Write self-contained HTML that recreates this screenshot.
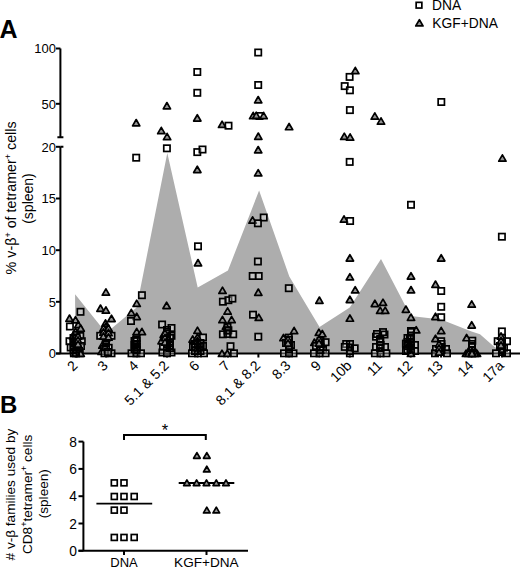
<!DOCTYPE html><html><head><meta charset="utf-8"><style>
html,body{margin:0;padding:0;background:#fff;}
body{width:520px;height:567px;overflow:hidden;}
svg{display:block;font-family:"Liberation Sans", sans-serif;}
</style></head><body>
<svg width="520" height="567" viewBox="0 0 520 567">
<text x="-0.6" y="37.6" font-size="25" font-weight="bold">A</text>
<text x="0" y="413" font-size="24" font-weight="bold">B</text>
<rect x="416.15" y="2.35" width="5.70" height="5.70" fill="#fff" fill-opacity="0.3" stroke="#000" stroke-width="1.7"/>
<text x="432" y="9.6" font-size="13.8">DNA</text>
<path d="M419.40 19.65L423.05 25.95L415.75 25.95Z" fill="#939393" stroke="#000" stroke-width="1.7" stroke-linejoin="round"/>
<text x="432.3" y="28" font-size="13.8">KGF+DNA</text>
<polygon points="75.10,353.50 75.10,294.30 106.15,333.00 136.60,307.50 167.30,153.00 197.70,287.40 227.95,270.50 259.10,190.50 289.30,276.50 319.50,327.00 349.75,307.50 381.00,259.10 410.65,316.00 441.10,319.50 471.55,331.60 480.00,334.30 492.80,345.40 502.00,352.30 502.00,353.50" fill="#adadad"/>
<g stroke="#000" stroke-width="2" fill="none">
<path d="M60.4 48.5V137.2M60.4 146.8V353.5"/>
<path d="M57.4 137.2H63.4M60.4 146.8H63.4"/>
<path d="M56 48.5H60.4"/>
<path d="M56 103.8H60.4"/>
<path d="M56 146.8H60.4"/>
<path d="M56 198.5H60.4"/>
<path d="M56 250.2H60.4"/>
<path d="M56 301.8H60.4"/>
<path d="M56 353.5H60.4"/>
<path d="M56 353.5H520"/>
<path d="M75.70 353.5V357.5"/>
<path d="M106.15 353.5V357.5"/>
<path d="M136.60 353.5V357.5"/>
<path d="M167.05 353.5V357.5"/>
<path d="M197.50 353.5V357.5"/>
<path d="M227.95 353.5V357.5"/>
<path d="M258.40 353.5V357.5"/>
<path d="M288.85 353.5V357.5"/>
<path d="M319.30 353.5V357.5"/>
<path d="M349.75 353.5V357.5"/>
<path d="M380.20 353.5V357.5"/>
<path d="M410.65 353.5V357.5"/>
<path d="M441.10 353.5V357.5"/>
<path d="M471.55 353.5V357.5"/>
<path d="M502.00 353.5V357.5"/>
</g>
<text x="56" y="53.3" font-size="13" text-anchor="end">100</text>
<text x="56" y="108.6" font-size="13" text-anchor="end">50</text>
<text x="56" y="151.6" font-size="13" text-anchor="end">20</text>
<text x="56" y="203.3" font-size="13" text-anchor="end">15</text>
<text x="56" y="255.0" font-size="13" text-anchor="end">10</text>
<text x="56" y="306.6" font-size="13" text-anchor="end">5</text>
<text x="56" y="358.3" font-size="13" text-anchor="end">0</text>
<text transform="translate(16.3,197.9) rotate(-90)" font-size="14.3" text-anchor="middle">% v-&#946;<tspan dy="-5" font-size="9">+</tspan><tspan dy="5"> of tetramer</tspan><tspan dy="-5" font-size="9">+</tspan><tspan dy="5"> cells</tspan></text>
<text transform="translate(32.9,198.5) rotate(-90)" font-size="14" text-anchor="middle">(spleen)</text>
<path d="M75.50 316.65L79.15 322.95L71.85 322.95Z" fill="#939393" stroke="#000" stroke-width="1.7" stroke-linejoin="round"/>
<path d="M69.50 315.05L73.15 321.35L65.85 321.35Z" fill="#939393" stroke="#000" stroke-width="1.7" stroke-linejoin="round"/>
<rect x="77.35" y="308.65" width="6.30" height="6.30" fill="#fff" fill-opacity="0.3" stroke="#000" stroke-width="1.7"/>
<rect x="66.75" y="323.35" width="6.30" height="6.30" fill="#fff" fill-opacity="0.3" stroke="#000" stroke-width="1.7"/>
<path d="M78.30 321.35L81.95 327.65L74.65 327.65Z" fill="#939393" stroke="#000" stroke-width="1.7" stroke-linejoin="round"/>
<path d="M80.70 324.95L84.35 331.25L77.05 331.25Z" fill="#939393" stroke="#000" stroke-width="1.7" stroke-linejoin="round"/>
<path d="M75.50 328.15L79.15 334.45L71.85 334.45Z" fill="#939393" stroke="#000" stroke-width="1.7" stroke-linejoin="round"/>
<path d="M73.00 332.85L76.65 339.15L69.35 339.15Z" fill="#939393" stroke="#000" stroke-width="1.7" stroke-linejoin="round"/>
<rect x="77.15" y="332.85" width="6.30" height="6.30" fill="#fff" fill-opacity="0.3" stroke="#000" stroke-width="1.7"/>
<rect x="72.85" y="334.85" width="6.30" height="6.30" fill="#fff" fill-opacity="0.3" stroke="#000" stroke-width="1.7"/>
<rect x="66.35" y="338.05" width="6.30" height="6.30" fill="#fff" fill-opacity="0.3" stroke="#000" stroke-width="1.7"/>
<rect x="78.65" y="338.05" width="6.30" height="6.30" fill="#fff" fill-opacity="0.3" stroke="#000" stroke-width="1.7"/>
<rect x="70.85" y="339.85" width="6.30" height="6.30" fill="#fff" fill-opacity="0.3" stroke="#000" stroke-width="1.7"/>
<rect x="67.55" y="344.35" width="6.30" height="6.30" fill="#fff" fill-opacity="0.3" stroke="#000" stroke-width="1.7"/>
<rect x="74.75" y="345.15" width="6.30" height="6.30" fill="#fff" fill-opacity="0.3" stroke="#000" stroke-width="1.7"/>
<rect x="77.85" y="342.85" width="6.30" height="6.30" fill="#fff" fill-opacity="0.3" stroke="#000" stroke-width="1.7"/>
<rect x="70.75" y="348.85" width="6.30" height="6.30" fill="#fff" fill-opacity="0.3" stroke="#000" stroke-width="1.7"/>
<rect x="75.85" y="347.85" width="6.30" height="6.30" fill="#fff" fill-opacity="0.3" stroke="#000" stroke-width="1.7"/>
<rect x="70.75" y="350.15" width="6.30" height="6.30" fill="#fff" fill-opacity="0.3" stroke="#000" stroke-width="1.7"/>
<rect x="76.65" y="350.15" width="6.30" height="6.30" fill="#fff" fill-opacity="0.3" stroke="#000" stroke-width="1.7"/>
<path d="M80.70 350.15L84.35 356.45L77.05 356.45Z" fill="#939393" stroke="#000" stroke-width="1.7" stroke-linejoin="round"/>
<path d="M105.90 288.85L109.55 295.15L102.25 295.15Z" fill="#939393" stroke="#000" stroke-width="1.7" stroke-linejoin="round"/>
<path d="M100.50 305.05L104.15 311.35L96.85 311.35Z" fill="#939393" stroke="#000" stroke-width="1.7" stroke-linejoin="round"/>
<path d="M105.90 306.85L109.55 313.15L102.25 313.15Z" fill="#939393" stroke="#000" stroke-width="1.7" stroke-linejoin="round"/>
<path d="M111.50 315.25L115.15 321.55L107.85 321.55Z" fill="#939393" stroke="#000" stroke-width="1.7" stroke-linejoin="round"/>
<path d="M105.50 319.85L109.15 326.15L101.85 326.15Z" fill="#939393" stroke="#000" stroke-width="1.7" stroke-linejoin="round"/>
<path d="M104.00 325.85L107.65 332.15L100.35 332.15Z" fill="#939393" stroke="#000" stroke-width="1.7" stroke-linejoin="round"/>
<path d="M108.50 325.85L112.15 332.15L104.85 332.15Z" fill="#939393" stroke="#000" stroke-width="1.7" stroke-linejoin="round"/>
<rect x="97.05" y="332.65" width="6.30" height="6.30" fill="#fff" fill-opacity="0.3" stroke="#000" stroke-width="1.7"/>
<rect x="108.35" y="332.65" width="6.30" height="6.30" fill="#fff" fill-opacity="0.3" stroke="#000" stroke-width="1.7"/>
<rect x="102.85" y="330.85" width="6.30" height="6.30" fill="#fff" fill-opacity="0.3" stroke="#000" stroke-width="1.7"/>
<rect x="102.85" y="336.85" width="6.30" height="6.30" fill="#fff" fill-opacity="0.3" stroke="#000" stroke-width="1.7"/>
<path d="M102.40 341.85L106.05 348.15L98.75 348.15Z" fill="#939393" stroke="#000" stroke-width="1.7" stroke-linejoin="round"/>
<rect x="105.55" y="344.65" width="6.30" height="6.30" fill="#fff" fill-opacity="0.3" stroke="#000" stroke-width="1.7"/>
<rect x="100.85" y="345.85" width="6.30" height="6.30" fill="#fff" fill-opacity="0.3" stroke="#000" stroke-width="1.7"/>
<path d="M101.60 348.15L105.25 354.45L97.95 354.45Z" fill="#939393" stroke="#000" stroke-width="1.7" stroke-linejoin="round"/>
<rect x="101.35" y="350.15" width="6.30" height="6.30" fill="#fff" fill-opacity="0.3" stroke="#000" stroke-width="1.7"/>
<rect x="108.35" y="350.15" width="6.30" height="6.30" fill="#fff" fill-opacity="0.3" stroke="#000" stroke-width="1.7"/>
<rect x="104.85" y="348.85" width="6.30" height="6.30" fill="#fff" fill-opacity="0.3" stroke="#000" stroke-width="1.7"/>
<path d="M136.20 119.55L139.85 125.85L132.55 125.85Z" fill="#939393" stroke="#000" stroke-width="1.7" stroke-linejoin="round"/>
<rect x="133.05" y="154.55" width="6.30" height="6.30" fill="#fff" fill-opacity="0.3" stroke="#000" stroke-width="1.7"/>
<rect x="138.75" y="292.05" width="6.30" height="6.30" fill="#fff" fill-opacity="0.3" stroke="#000" stroke-width="1.7"/>
<path d="M136.70 300.15L140.35 306.45L133.05 306.45Z" fill="#939393" stroke="#000" stroke-width="1.7" stroke-linejoin="round"/>
<path d="M131.30 309.35L134.95 315.65L127.65 315.65Z" fill="#939393" stroke="#000" stroke-width="1.7" stroke-linejoin="round"/>
<path d="M136.70 313.25L140.35 319.55L133.05 319.55Z" fill="#939393" stroke="#000" stroke-width="1.7" stroke-linejoin="round"/>
<rect x="127.85" y="317.85" width="6.30" height="6.30" fill="#fff" fill-opacity="0.3" stroke="#000" stroke-width="1.7"/>
<path d="M136.70 328.35L140.35 334.65L133.05 334.65Z" fill="#939393" stroke="#000" stroke-width="1.7" stroke-linejoin="round"/>
<path d="M141.90 328.35L145.55 334.65L138.25 334.65Z" fill="#939393" stroke="#000" stroke-width="1.7" stroke-linejoin="round"/>
<rect x="133.05" y="336.85" width="6.30" height="6.30" fill="#fff" fill-opacity="0.3" stroke="#000" stroke-width="1.7"/>
<rect x="133.05" y="340.85" width="6.30" height="6.30" fill="#fff" fill-opacity="0.3" stroke="#000" stroke-width="1.7"/>
<rect x="133.45" y="345.85" width="6.30" height="6.30" fill="#fff" fill-opacity="0.3" stroke="#000" stroke-width="1.7"/>
<rect x="128.35" y="350.15" width="6.30" height="6.30" fill="#fff" fill-opacity="0.3" stroke="#000" stroke-width="1.7"/>
<rect x="133.25" y="350.15" width="6.30" height="6.30" fill="#fff" fill-opacity="0.3" stroke="#000" stroke-width="1.7"/>
<rect x="137.85" y="350.15" width="6.30" height="6.30" fill="#fff" fill-opacity="0.3" stroke="#000" stroke-width="1.7"/>
<path d="M166.90 102.55L170.55 108.85L163.25 108.85Z" fill="#939393" stroke="#000" stroke-width="1.7" stroke-linejoin="round"/>
<path d="M161.30 127.35L164.95 133.65L157.65 133.65Z" fill="#939393" stroke="#000" stroke-width="1.7" stroke-linejoin="round"/>
<path d="M167.10 133.35L170.75 139.65L163.45 139.65Z" fill="#939393" stroke="#000" stroke-width="1.7" stroke-linejoin="round"/>
<rect x="163.75" y="145.15" width="6.30" height="6.30" fill="#fff" fill-opacity="0.3" stroke="#000" stroke-width="1.7"/>
<path d="M166.60 302.25L170.25 308.55L162.95 308.55Z" fill="#939393" stroke="#000" stroke-width="1.7" stroke-linejoin="round"/>
<rect x="158.95" y="321.35" width="6.30" height="6.30" fill="#fff" fill-opacity="0.3" stroke="#000" stroke-width="1.7"/>
<rect x="168.35" y="324.85" width="6.30" height="6.30" fill="#fff" fill-opacity="0.3" stroke="#000" stroke-width="1.7"/>
<rect x="163.85" y="328.85" width="6.30" height="6.30" fill="#fff" fill-opacity="0.3" stroke="#000" stroke-width="1.7"/>
<rect x="168.35" y="332.65" width="6.30" height="6.30" fill="#fff" fill-opacity="0.3" stroke="#000" stroke-width="1.7"/>
<path d="M163.80 331.25L167.45 337.55L160.15 337.55Z" fill="#939393" stroke="#000" stroke-width="1.7" stroke-linejoin="round"/>
<path d="M161.60 337.55L165.25 343.85L157.95 343.85Z" fill="#939393" stroke="#000" stroke-width="1.7" stroke-linejoin="round"/>
<path d="M166.60 337.55L170.25 343.85L162.95 343.85Z" fill="#939393" stroke="#000" stroke-width="1.7" stroke-linejoin="round"/>
<rect x="163.85" y="334.85" width="6.30" height="6.30" fill="#fff" fill-opacity="0.3" stroke="#000" stroke-width="1.7"/>
<rect x="166.25" y="342.45" width="6.30" height="6.30" fill="#fff" fill-opacity="0.3" stroke="#000" stroke-width="1.7"/>
<rect x="159.85" y="343.85" width="6.30" height="6.30" fill="#fff" fill-opacity="0.3" stroke="#000" stroke-width="1.7"/>
<rect x="159.25" y="349.35" width="6.30" height="6.30" fill="#fff" fill-opacity="0.3" stroke="#000" stroke-width="1.7"/>
<rect x="168.35" y="349.35" width="6.30" height="6.30" fill="#fff" fill-opacity="0.3" stroke="#000" stroke-width="1.7"/>
<rect x="163.85" y="350.15" width="6.30" height="6.30" fill="#fff" fill-opacity="0.3" stroke="#000" stroke-width="1.7"/>
<rect x="194.15" y="68.85" width="6.30" height="6.30" fill="#fff" fill-opacity="0.3" stroke="#000" stroke-width="1.7"/>
<rect x="194.15" y="89.65" width="6.30" height="6.30" fill="#fff" fill-opacity="0.3" stroke="#000" stroke-width="1.7"/>
<path d="M197.30 114.75L200.95 121.05L193.65 121.05Z" fill="#939393" stroke="#000" stroke-width="1.7" stroke-linejoin="round"/>
<rect x="194.15" y="148.95" width="6.30" height="6.30" fill="#fff" fill-opacity="0.3" stroke="#000" stroke-width="1.7"/>
<rect x="199.35" y="146.35" width="6.30" height="6.30" fill="#fff" fill-opacity="0.3" stroke="#000" stroke-width="1.7"/>
<path d="M197.30 166.25L200.95 172.55L193.65 172.55Z" fill="#939393" stroke="#000" stroke-width="1.7" stroke-linejoin="round"/>
<rect x="194.85" y="243.15" width="6.30" height="6.30" fill="#fff" fill-opacity="0.3" stroke="#000" stroke-width="1.7"/>
<path d="M198.00 259.55L201.65 265.85L194.35 265.85Z" fill="#939393" stroke="#000" stroke-width="1.7" stroke-linejoin="round"/>
<path d="M197.50 327.15L201.15 333.45L193.85 333.45Z" fill="#939393" stroke="#000" stroke-width="1.7" stroke-linejoin="round"/>
<path d="M192.70 335.85L196.35 342.15L189.05 342.15Z" fill="#939393" stroke="#000" stroke-width="1.7" stroke-linejoin="round"/>
<rect x="199.85" y="334.35" width="6.30" height="6.30" fill="#fff" fill-opacity="0.3" stroke="#000" stroke-width="1.7"/>
<path d="M196.00 336.85L199.65 343.15L192.35 343.15Z" fill="#939393" stroke="#000" stroke-width="1.7" stroke-linejoin="round"/>
<rect x="189.85" y="343.85" width="6.30" height="6.30" fill="#fff" fill-opacity="0.3" stroke="#000" stroke-width="1.7"/>
<rect x="195.85" y="344.85" width="6.30" height="6.30" fill="#fff" fill-opacity="0.3" stroke="#000" stroke-width="1.7"/>
<rect x="199.85" y="342.85" width="6.30" height="6.30" fill="#fff" fill-opacity="0.3" stroke="#000" stroke-width="1.7"/>
<rect x="188.85" y="350.15" width="6.30" height="6.30" fill="#fff" fill-opacity="0.3" stroke="#000" stroke-width="1.7"/>
<rect x="194.85" y="350.15" width="6.30" height="6.30" fill="#fff" fill-opacity="0.3" stroke="#000" stroke-width="1.7"/>
<rect x="200.85" y="350.15" width="6.30" height="6.30" fill="#fff" fill-opacity="0.3" stroke="#000" stroke-width="1.7"/>
<path d="M222.10 121.15L225.75 127.45L218.45 127.45Z" fill="#939393" stroke="#000" stroke-width="1.7" stroke-linejoin="round"/>
<rect x="225.35" y="122.55" width="6.30" height="6.30" fill="#fff" fill-opacity="0.3" stroke="#000" stroke-width="1.7"/>
<path d="M222.50 287.15L226.15 293.45L218.85 293.45Z" fill="#939393" stroke="#000" stroke-width="1.7" stroke-linejoin="round"/>
<rect x="219.75" y="298.55" width="6.30" height="6.30" fill="#fff" fill-opacity="0.3" stroke="#000" stroke-width="1.7"/>
<rect x="225.25" y="297.05" width="6.30" height="6.30" fill="#fff" fill-opacity="0.3" stroke="#000" stroke-width="1.7"/>
<rect x="229.25" y="295.45" width="6.30" height="6.30" fill="#fff" fill-opacity="0.3" stroke="#000" stroke-width="1.7"/>
<path d="M227.60 307.85L231.25 314.15L223.95 314.15Z" fill="#939393" stroke="#000" stroke-width="1.7" stroke-linejoin="round"/>
<path d="M222.50 316.35L226.15 322.65L218.85 322.65Z" fill="#939393" stroke="#000" stroke-width="1.7" stroke-linejoin="round"/>
<path d="M231.60 316.35L235.25 322.65L227.95 322.65Z" fill="#939393" stroke="#000" stroke-width="1.7" stroke-linejoin="round"/>
<path d="M226.00 322.85L229.65 329.15L222.35 329.15Z" fill="#939393" stroke="#000" stroke-width="1.7" stroke-linejoin="round"/>
<rect x="225.25" y="327.15" width="6.30" height="6.30" fill="#fff" fill-opacity="0.3" stroke="#000" stroke-width="1.7"/>
<rect x="219.75" y="331.15" width="6.30" height="6.30" fill="#fff" fill-opacity="0.3" stroke="#000" stroke-width="1.7"/>
<rect x="230.05" y="331.15" width="6.30" height="6.30" fill="#fff" fill-opacity="0.3" stroke="#000" stroke-width="1.7"/>
<rect x="227.35" y="343.05" width="6.30" height="6.30" fill="#fff" fill-opacity="0.3" stroke="#000" stroke-width="1.7"/>
<path d="M222.00 350.15L225.65 356.45L218.35 356.45Z" fill="#939393" stroke="#000" stroke-width="1.7" stroke-linejoin="round"/>
<path d="M227.30 350.15L230.95 356.45L223.65 356.45Z" fill="#939393" stroke="#000" stroke-width="1.7" stroke-linejoin="round"/>
<rect x="230.85" y="350.15" width="6.30" height="6.30" fill="#fff" fill-opacity="0.3" stroke="#000" stroke-width="1.7"/>
<rect x="255.05" y="49.35" width="6.30" height="6.30" fill="#fff" fill-opacity="0.3" stroke="#000" stroke-width="1.7"/>
<rect x="255.05" y="81.85" width="6.30" height="6.30" fill="#fff" fill-opacity="0.3" stroke="#000" stroke-width="1.7"/>
<path d="M258.20 96.55L261.85 102.85L254.55 102.85Z" fill="#939393" stroke="#000" stroke-width="1.7" stroke-linejoin="round"/>
<rect x="256.35" y="112.85" width="6.30" height="6.30" fill="#fff" fill-opacity="0.3" stroke="#000" stroke-width="1.7"/>
<path d="M253.20 112.35L256.85 118.65L249.55 118.65Z" fill="#939393" stroke="#000" stroke-width="1.7" stroke-linejoin="round"/>
<path d="M256.30 112.15L259.95 118.45L252.65 118.45Z" fill="#939393" stroke="#000" stroke-width="1.7" stroke-linejoin="round"/>
<path d="M263.60 112.35L267.25 118.65L259.95 118.65Z" fill="#939393" stroke="#000" stroke-width="1.7" stroke-linejoin="round"/>
<path d="M258.30 133.05L261.95 139.35L254.65 139.35Z" fill="#939393" stroke="#000" stroke-width="1.7" stroke-linejoin="round"/>
<path d="M258.20 146.55L261.85 152.85L254.55 152.85Z" fill="#939393" stroke="#000" stroke-width="1.7" stroke-linejoin="round"/>
<path d="M258.20 169.65L261.85 175.95L254.55 175.95Z" fill="#939393" stroke="#000" stroke-width="1.7" stroke-linejoin="round"/>
<path d="M252.60 216.85L256.25 223.15L248.95 223.15Z" fill="#939393" stroke="#000" stroke-width="1.7" stroke-linejoin="round"/>
<rect x="260.55" y="214.35" width="6.30" height="6.30" fill="#fff" fill-opacity="0.3" stroke="#000" stroke-width="1.7"/>
<rect x="254.75" y="220.15" width="6.30" height="6.30" fill="#fff" fill-opacity="0.3" stroke="#000" stroke-width="1.7"/>
<rect x="254.75" y="258.35" width="6.30" height="6.30" fill="#fff" fill-opacity="0.3" stroke="#000" stroke-width="1.7"/>
<rect x="249.55" y="272.85" width="6.30" height="6.30" fill="#fff" fill-opacity="0.3" stroke="#000" stroke-width="1.7"/>
<rect x="255.55" y="272.85" width="6.30" height="6.30" fill="#fff" fill-opacity="0.3" stroke="#000" stroke-width="1.7"/>
<path d="M258.30 289.05L261.95 295.35L254.65 295.35Z" fill="#939393" stroke="#000" stroke-width="1.7" stroke-linejoin="round"/>
<rect x="249.85" y="311.55" width="6.30" height="6.30" fill="#fff" fill-opacity="0.3" stroke="#000" stroke-width="1.7"/>
<path d="M258.80 314.15L262.45 320.45L255.15 320.45Z" fill="#939393" stroke="#000" stroke-width="1.7" stroke-linejoin="round"/>
<rect x="255.15" y="333.55" width="6.30" height="6.30" fill="#fff" fill-opacity="0.3" stroke="#000" stroke-width="1.7"/>
<path d="M289.10 123.45L292.75 129.75L285.45 129.75Z" fill="#939393" stroke="#000" stroke-width="1.7" stroke-linejoin="round"/>
<rect x="285.65" y="285.05" width="6.30" height="6.30" fill="#fff" fill-opacity="0.3" stroke="#000" stroke-width="1.7"/>
<path d="M294.10 327.35L297.75 333.65L290.45 333.65Z" fill="#939393" stroke="#000" stroke-width="1.7" stroke-linejoin="round"/>
<path d="M283.50 334.45L287.15 340.75L279.85 340.75Z" fill="#939393" stroke="#000" stroke-width="1.7" stroke-linejoin="round"/>
<rect x="285.65" y="334.45" width="6.30" height="6.30" fill="#fff" fill-opacity="0.3" stroke="#000" stroke-width="1.7"/>
<rect x="282.85" y="339.85" width="6.30" height="6.30" fill="#fff" fill-opacity="0.3" stroke="#000" stroke-width="1.7"/>
<rect x="287.85" y="341.85" width="6.30" height="6.30" fill="#fff" fill-opacity="0.3" stroke="#000" stroke-width="1.7"/>
<path d="M288.00 337.85L291.65 344.15L284.35 344.15Z" fill="#939393" stroke="#000" stroke-width="1.7" stroke-linejoin="round"/>
<rect x="285.85" y="345.85" width="6.30" height="6.30" fill="#fff" fill-opacity="0.3" stroke="#000" stroke-width="1.7"/>
<rect x="280.85" y="350.15" width="6.30" height="6.30" fill="#fff" fill-opacity="0.3" stroke="#000" stroke-width="1.7"/>
<rect x="290.35" y="350.15" width="6.30" height="6.30" fill="#fff" fill-opacity="0.3" stroke="#000" stroke-width="1.7"/>
<rect x="285.85" y="350.15" width="6.30" height="6.30" fill="#fff" fill-opacity="0.3" stroke="#000" stroke-width="1.7"/>
<path d="M319.40 297.05L323.05 303.35L315.75 303.35Z" fill="#939393" stroke="#000" stroke-width="1.7" stroke-linejoin="round"/>
<path d="M318.90 329.15L322.55 335.45L315.25 335.45Z" fill="#939393" stroke="#000" stroke-width="1.7" stroke-linejoin="round"/>
<path d="M322.30 330.45L325.95 336.75L318.65 336.75Z" fill="#939393" stroke="#000" stroke-width="1.7" stroke-linejoin="round"/>
<path d="M314.40 339.05L318.05 345.35L310.75 345.35Z" fill="#939393" stroke="#000" stroke-width="1.7" stroke-linejoin="round"/>
<rect x="322.45" y="339.05" width="6.30" height="6.30" fill="#fff" fill-opacity="0.3" stroke="#000" stroke-width="1.7"/>
<path d="M319.00 336.85L322.65 343.15L315.35 343.15Z" fill="#939393" stroke="#000" stroke-width="1.7" stroke-linejoin="round"/>
<rect x="312.85" y="342.85" width="6.30" height="6.30" fill="#fff" fill-opacity="0.3" stroke="#000" stroke-width="1.7"/>
<rect x="316.85" y="344.85" width="6.30" height="6.30" fill="#fff" fill-opacity="0.3" stroke="#000" stroke-width="1.7"/>
<rect x="319.85" y="346.85" width="6.30" height="6.30" fill="#fff" fill-opacity="0.3" stroke="#000" stroke-width="1.7"/>
<rect x="310.85" y="350.15" width="6.30" height="6.30" fill="#fff" fill-opacity="0.3" stroke="#000" stroke-width="1.7"/>
<rect x="322.45" y="350.15" width="6.30" height="6.30" fill="#fff" fill-opacity="0.3" stroke="#000" stroke-width="1.7"/>
<rect x="316.35" y="350.15" width="6.30" height="6.30" fill="#fff" fill-opacity="0.3" stroke="#000" stroke-width="1.7"/>
<path d="M355.30 67.35L358.95 73.65L351.65 73.65Z" fill="#939393" stroke="#000" stroke-width="1.7" stroke-linejoin="round"/>
<rect x="346.45" y="73.75" width="6.30" height="6.30" fill="#fff" fill-opacity="0.3" stroke="#000" stroke-width="1.7"/>
<rect x="341.55" y="82.95" width="6.30" height="6.30" fill="#fff" fill-opacity="0.3" stroke="#000" stroke-width="1.7"/>
<rect x="346.75" y="87.15" width="6.30" height="6.30" fill="#fff" fill-opacity="0.3" stroke="#000" stroke-width="1.7"/>
<rect x="346.75" y="106.95" width="6.30" height="6.30" fill="#fff" fill-opacity="0.3" stroke="#000" stroke-width="1.7"/>
<path d="M344.30 133.15L347.95 139.45L340.65 139.45Z" fill="#939393" stroke="#000" stroke-width="1.7" stroke-linejoin="round"/>
<path d="M350.10 133.85L353.75 140.15L346.45 140.15Z" fill="#939393" stroke="#000" stroke-width="1.7" stroke-linejoin="round"/>
<rect x="346.55" y="158.75" width="6.30" height="6.30" fill="#fff" fill-opacity="0.3" stroke="#000" stroke-width="1.7"/>
<path d="M344.00 215.85L347.65 222.15L340.35 222.15Z" fill="#939393" stroke="#000" stroke-width="1.7" stroke-linejoin="round"/>
<rect x="346.95" y="217.85" width="6.30" height="6.30" fill="#fff" fill-opacity="0.3" stroke="#000" stroke-width="1.7"/>
<path d="M349.90 254.75L353.55 261.05L346.25 261.05Z" fill="#939393" stroke="#000" stroke-width="1.7" stroke-linejoin="round"/>
<path d="M349.90 273.65L353.55 279.95L346.25 279.95Z" fill="#939393" stroke="#000" stroke-width="1.7" stroke-linejoin="round"/>
<path d="M355.20 286.65L358.85 292.95L351.55 292.95Z" fill="#939393" stroke="#000" stroke-width="1.7" stroke-linejoin="round"/>
<path d="M349.90 296.25L353.55 302.55L346.25 302.55Z" fill="#939393" stroke="#000" stroke-width="1.7" stroke-linejoin="round"/>
<path d="M349.90 314.95L353.55 321.25L346.25 321.25Z" fill="#939393" stroke="#000" stroke-width="1.7" stroke-linejoin="round"/>
<rect x="343.05" y="340.85" width="6.30" height="6.30" fill="#fff" fill-opacity="0.3" stroke="#000" stroke-width="1.7"/>
<rect x="341.65" y="343.75" width="6.30" height="6.30" fill="#fff" fill-opacity="0.3" stroke="#000" stroke-width="1.7"/>
<rect x="351.55" y="345.15" width="6.30" height="6.30" fill="#fff" fill-opacity="0.3" stroke="#000" stroke-width="1.7"/>
<rect x="346.75" y="350.15" width="6.30" height="6.30" fill="#fff" fill-opacity="0.3" stroke="#000" stroke-width="1.7"/>
<path d="M374.80 112.85L378.45 119.15L371.15 119.15Z" fill="#939393" stroke="#000" stroke-width="1.7" stroke-linejoin="round"/>
<path d="M381.00 117.85L384.65 124.15L377.35 124.15Z" fill="#939393" stroke="#000" stroke-width="1.7" stroke-linejoin="round"/>
<path d="M374.90 300.25L378.55 306.55L371.25 306.55Z" fill="#939393" stroke="#000" stroke-width="1.7" stroke-linejoin="round"/>
<path d="M383.00 299.15L386.65 305.45L379.35 305.45Z" fill="#939393" stroke="#000" stroke-width="1.7" stroke-linejoin="round"/>
<path d="M380.20 307.15L383.85 313.45L376.55 313.45Z" fill="#939393" stroke="#000" stroke-width="1.7" stroke-linejoin="round"/>
<path d="M385.20 307.15L388.85 313.45L381.55 313.45Z" fill="#939393" stroke="#000" stroke-width="1.7" stroke-linejoin="round"/>
<rect x="379.85" y="328.95" width="6.30" height="6.30" fill="#fff" fill-opacity="0.3" stroke="#000" stroke-width="1.7"/>
<rect x="372.85" y="333.55" width="6.30" height="6.30" fill="#fff" fill-opacity="0.3" stroke="#000" stroke-width="1.7"/>
<rect x="376.85" y="336.85" width="6.30" height="6.30" fill="#fff" fill-opacity="0.3" stroke="#000" stroke-width="1.7"/>
<rect x="372.85" y="343.85" width="6.30" height="6.30" fill="#fff" fill-opacity="0.3" stroke="#000" stroke-width="1.7"/>
<rect x="381.85" y="343.85" width="6.30" height="6.30" fill="#fff" fill-opacity="0.3" stroke="#000" stroke-width="1.7"/>
<rect x="377.35" y="341.85" width="6.30" height="6.30" fill="#fff" fill-opacity="0.3" stroke="#000" stroke-width="1.7"/>
<rect x="371.75" y="350.15" width="6.30" height="6.30" fill="#fff" fill-opacity="0.3" stroke="#000" stroke-width="1.7"/>
<rect x="383.25" y="350.15" width="6.30" height="6.30" fill="#fff" fill-opacity="0.3" stroke="#000" stroke-width="1.7"/>
<rect x="377.35" y="350.15" width="6.30" height="6.30" fill="#fff" fill-opacity="0.3" stroke="#000" stroke-width="1.7"/>
<rect x="407.85" y="201.65" width="6.30" height="6.30" fill="#fff" fill-opacity="0.3" stroke="#000" stroke-width="1.7"/>
<path d="M411.00 272.75L414.65 279.05L407.35 279.05Z" fill="#939393" stroke="#000" stroke-width="1.7" stroke-linejoin="round"/>
<path d="M411.00 286.55L414.65 292.85L407.35 292.85Z" fill="#939393" stroke="#000" stroke-width="1.7" stroke-linejoin="round"/>
<path d="M405.90 306.05L409.55 312.35L402.25 312.35Z" fill="#939393" stroke="#000" stroke-width="1.7" stroke-linejoin="round"/>
<path d="M411.00 314.05L414.65 320.35L407.35 320.35Z" fill="#939393" stroke="#000" stroke-width="1.7" stroke-linejoin="round"/>
<path d="M416.20 326.65L419.85 332.95L412.55 332.95Z" fill="#939393" stroke="#000" stroke-width="1.7" stroke-linejoin="round"/>
<rect x="407.85" y="327.85" width="6.30" height="6.30" fill="#fff" fill-opacity="0.3" stroke="#000" stroke-width="1.7"/>
<rect x="406.85" y="334.85" width="6.30" height="6.30" fill="#fff" fill-opacity="0.3" stroke="#000" stroke-width="1.7"/>
<path d="M408.00 337.85L411.65 344.15L404.35 344.15Z" fill="#939393" stroke="#000" stroke-width="1.7" stroke-linejoin="round"/>
<rect x="402.75" y="340.45" width="6.30" height="6.30" fill="#fff" fill-opacity="0.3" stroke="#000" stroke-width="1.7"/>
<rect x="411.85" y="341.85" width="6.30" height="6.30" fill="#fff" fill-opacity="0.3" stroke="#000" stroke-width="1.7"/>
<rect x="406.85" y="344.85" width="6.30" height="6.30" fill="#fff" fill-opacity="0.3" stroke="#000" stroke-width="1.7"/>
<rect x="402.85" y="347.85" width="6.30" height="6.30" fill="#fff" fill-opacity="0.3" stroke="#000" stroke-width="1.7"/>
<rect x="411.85" y="347.85" width="6.30" height="6.30" fill="#fff" fill-opacity="0.3" stroke="#000" stroke-width="1.7"/>
<path d="M411.00 350.15L414.65 356.45L407.35 356.45Z" fill="#939393" stroke="#000" stroke-width="1.7" stroke-linejoin="round"/>
<rect x="438.15" y="98.85" width="6.30" height="6.30" fill="#fff" fill-opacity="0.3" stroke="#000" stroke-width="1.7"/>
<path d="M441.20 254.75L444.85 261.05L437.55 261.05Z" fill="#939393" stroke="#000" stroke-width="1.7" stroke-linejoin="round"/>
<path d="M435.50 281.05L439.15 287.35L431.85 287.35Z" fill="#939393" stroke="#000" stroke-width="1.7" stroke-linejoin="round"/>
<rect x="438.05" y="287.85" width="6.30" height="6.30" fill="#fff" fill-opacity="0.3" stroke="#000" stroke-width="1.7"/>
<rect x="438.05" y="303.65" width="6.30" height="6.30" fill="#fff" fill-opacity="0.3" stroke="#000" stroke-width="1.7"/>
<path d="M435.50 313.25L439.15 319.55L431.85 319.55Z" fill="#939393" stroke="#000" stroke-width="1.7" stroke-linejoin="round"/>
<rect x="438.05" y="314.05" width="6.30" height="6.30" fill="#fff" fill-opacity="0.3" stroke="#000" stroke-width="1.7"/>
<path d="M441.20 327.35L444.85 333.65L437.55 333.65Z" fill="#939393" stroke="#000" stroke-width="1.7" stroke-linejoin="round"/>
<path d="M435.50 335.25L439.15 341.55L431.85 341.55Z" fill="#939393" stroke="#000" stroke-width="1.7" stroke-linejoin="round"/>
<rect x="438.05" y="338.05" width="6.30" height="6.30" fill="#fff" fill-opacity="0.3" stroke="#000" stroke-width="1.7"/>
<path d="M440.00 341.85L443.65 348.15L436.35 348.15Z" fill="#939393" stroke="#000" stroke-width="1.7" stroke-linejoin="round"/>
<rect x="432.85" y="345.85" width="6.30" height="6.30" fill="#fff" fill-opacity="0.3" stroke="#000" stroke-width="1.7"/>
<rect x="442.85" y="345.85" width="6.30" height="6.30" fill="#fff" fill-opacity="0.3" stroke="#000" stroke-width="1.7"/>
<rect x="437.85" y="348.85" width="6.30" height="6.30" fill="#fff" fill-opacity="0.3" stroke="#000" stroke-width="1.7"/>
<rect x="431.85" y="350.15" width="6.30" height="6.30" fill="#fff" fill-opacity="0.3" stroke="#000" stroke-width="1.7"/>
<rect x="443.85" y="350.15" width="6.30" height="6.30" fill="#fff" fill-opacity="0.3" stroke="#000" stroke-width="1.7"/>
<path d="M471.70 300.85L475.35 307.15L468.05 307.15Z" fill="#939393" stroke="#000" stroke-width="1.7" stroke-linejoin="round"/>
<path d="M471.70 321.75L475.35 328.05L468.05 328.05Z" fill="#939393" stroke="#000" stroke-width="1.7" stroke-linejoin="round"/>
<path d="M466.60 334.45L470.25 340.75L462.95 340.75Z" fill="#939393" stroke="#000" stroke-width="1.7" stroke-linejoin="round"/>
<rect x="469.15" y="337.55" width="6.30" height="6.30" fill="#fff" fill-opacity="0.3" stroke="#000" stroke-width="1.7"/>
<rect x="468.85" y="342.85" width="6.30" height="6.30" fill="#fff" fill-opacity="0.3" stroke="#000" stroke-width="1.7"/>
<rect x="468.85" y="346.85" width="6.30" height="6.30" fill="#fff" fill-opacity="0.3" stroke="#000" stroke-width="1.7"/>
<path d="M466.00 350.15L469.65 356.45L462.35 356.45Z" fill="#939393" stroke="#000" stroke-width="1.7" stroke-linejoin="round"/>
<path d="M477.00 350.15L480.65 356.45L473.35 356.45Z" fill="#939393" stroke="#000" stroke-width="1.7" stroke-linejoin="round"/>
<path d="M472.00 350.15L475.65 356.45L468.35 356.45Z" fill="#939393" stroke="#000" stroke-width="1.7" stroke-linejoin="round"/>
<path d="M502.40 154.85L506.05 161.15L498.75 161.15Z" fill="#939393" stroke="#000" stroke-width="1.7" stroke-linejoin="round"/>
<rect x="498.75" y="233.55" width="6.30" height="6.30" fill="#fff" fill-opacity="0.3" stroke="#000" stroke-width="1.7"/>
<rect x="498.75" y="328.25" width="6.30" height="6.30" fill="#fff" fill-opacity="0.3" stroke="#000" stroke-width="1.7"/>
<rect x="498.85" y="334.85" width="6.30" height="6.30" fill="#fff" fill-opacity="0.3" stroke="#000" stroke-width="1.7"/>
<rect x="494.55" y="338.05" width="6.30" height="6.30" fill="#fff" fill-opacity="0.3" stroke="#000" stroke-width="1.7"/>
<rect x="503.85" y="338.05" width="6.30" height="6.30" fill="#fff" fill-opacity="0.3" stroke="#000" stroke-width="1.7"/>
<rect x="496.85" y="342.85" width="6.30" height="6.30" fill="#fff" fill-opacity="0.3" stroke="#000" stroke-width="1.7"/>
<rect x="500.85" y="344.85" width="6.30" height="6.30" fill="#fff" fill-opacity="0.3" stroke="#000" stroke-width="1.7"/>
<path d="M502.00 346.85L505.65 353.15L498.35 353.15Z" fill="#939393" stroke="#000" stroke-width="1.7" stroke-linejoin="round"/>
<rect x="492.85" y="350.15" width="6.30" height="6.30" fill="#fff" fill-opacity="0.3" stroke="#000" stroke-width="1.7"/>
<rect x="503.85" y="350.15" width="6.30" height="6.30" fill="#fff" fill-opacity="0.3" stroke="#000" stroke-width="1.7"/>
<rect x="73.35" y="331.85" width="6.30" height="6.30" fill="none" stroke="#000" stroke-width="1.7"/>
<rect x="73.35" y="335.35" width="6.30" height="6.30" fill="none" stroke="#000" stroke-width="1.7"/>
<rect x="73.35" y="338.85" width="6.30" height="6.30" fill="none" stroke="#000" stroke-width="1.7"/>
<rect x="73.35" y="342.35" width="6.30" height="6.30" fill="none" stroke="#000" stroke-width="1.7"/>
<rect x="73.35" y="345.85" width="6.30" height="6.30" fill="none" stroke="#000" stroke-width="1.7"/>
<rect x="70.35" y="334.85" width="6.30" height="6.30" fill="none" stroke="#000" stroke-width="1.7"/>
<rect x="70.35" y="338.85" width="6.30" height="6.30" fill="none" stroke="#000" stroke-width="1.7"/>
<rect x="70.35" y="342.85" width="6.30" height="6.30" fill="none" stroke="#000" stroke-width="1.7"/>
<rect x="70.35" y="346.85" width="6.30" height="6.30" fill="none" stroke="#000" stroke-width="1.7"/>
<path d="M78.00 332.85L81.65 339.15L74.35 339.15Z" fill="#939393" stroke="#000" stroke-width="1.7" stroke-linejoin="round"/>
<path d="M78.00 336.85L81.65 343.15L74.35 343.15Z" fill="#939393" stroke="#000" stroke-width="1.7" stroke-linejoin="round"/>
<path d="M78.00 340.85L81.65 347.15L74.35 347.15Z" fill="#939393" stroke="#000" stroke-width="1.7" stroke-linejoin="round"/>
<rect x="72.85" y="350.15" width="6.30" height="6.30" fill="none" stroke="#000" stroke-width="1.7"/>
<path d="M106.00 322.85L109.65 329.15L102.35 329.15Z" fill="#939393" stroke="#000" stroke-width="1.7" stroke-linejoin="round"/>
<path d="M106.00 325.85L109.65 332.15L102.35 332.15Z" fill="#939393" stroke="#000" stroke-width="1.7" stroke-linejoin="round"/>
<path d="M106.00 328.85L109.65 335.15L102.35 335.15Z" fill="#939393" stroke="#000" stroke-width="1.7" stroke-linejoin="round"/>
<path d="M106.00 331.85L109.65 338.15L102.35 338.15Z" fill="#939393" stroke="#000" stroke-width="1.7" stroke-linejoin="round"/>
<path d="M106.00 334.85L109.65 341.15L102.35 341.15Z" fill="#939393" stroke="#000" stroke-width="1.7" stroke-linejoin="round"/>
<path d="M103.50 324.85L107.15 331.15L99.85 331.15Z" fill="#939393" stroke="#000" stroke-width="1.7" stroke-linejoin="round"/>
<path d="M103.50 328.85L107.15 335.15L99.85 335.15Z" fill="#939393" stroke="#000" stroke-width="1.7" stroke-linejoin="round"/>
<path d="M103.50 332.85L107.15 339.15L99.85 339.15Z" fill="#939393" stroke="#000" stroke-width="1.7" stroke-linejoin="round"/>
<path d="M108.50 324.85L112.15 331.15L104.85 331.15Z" fill="#939393" stroke="#000" stroke-width="1.7" stroke-linejoin="round"/>
<path d="M108.50 329.35L112.15 335.65L104.85 335.65Z" fill="#939393" stroke="#000" stroke-width="1.7" stroke-linejoin="round"/>
<path d="M108.50 333.85L112.15 340.15L104.85 340.15Z" fill="#939393" stroke="#000" stroke-width="1.7" stroke-linejoin="round"/>
<rect x="102.85" y="339.85" width="6.30" height="6.30" fill="none" stroke="#000" stroke-width="1.7"/>
<rect x="102.85" y="343.85" width="6.30" height="6.30" fill="none" stroke="#000" stroke-width="1.7"/>
<rect x="133.45" y="334.85" width="6.30" height="6.30" fill="none" stroke="#000" stroke-width="1.7"/>
<rect x="133.45" y="337.85" width="6.30" height="6.30" fill="none" stroke="#000" stroke-width="1.7"/>
<rect x="133.45" y="340.85" width="6.30" height="6.30" fill="none" stroke="#000" stroke-width="1.7"/>
<rect x="133.45" y="343.85" width="6.30" height="6.30" fill="none" stroke="#000" stroke-width="1.7"/>
<rect x="133.45" y="346.85" width="6.30" height="6.30" fill="none" stroke="#000" stroke-width="1.7"/>
<rect x="131.35" y="337.85" width="6.30" height="6.30" fill="none" stroke="#000" stroke-width="1.7"/>
<rect x="131.35" y="341.85" width="6.30" height="6.30" fill="none" stroke="#000" stroke-width="1.7"/>
<rect x="131.35" y="345.85" width="6.30" height="6.30" fill="none" stroke="#000" stroke-width="1.7"/>
<rect x="163.85" y="326.85" width="6.30" height="6.30" fill="none" stroke="#000" stroke-width="1.7"/>
<rect x="163.85" y="330.35" width="6.30" height="6.30" fill="none" stroke="#000" stroke-width="1.7"/>
<rect x="163.85" y="333.85" width="6.30" height="6.30" fill="none" stroke="#000" stroke-width="1.7"/>
<rect x="163.85" y="337.35" width="6.30" height="6.30" fill="none" stroke="#000" stroke-width="1.7"/>
<rect x="163.85" y="340.85" width="6.30" height="6.30" fill="none" stroke="#000" stroke-width="1.7"/>
<rect x="163.85" y="344.35" width="6.30" height="6.30" fill="none" stroke="#000" stroke-width="1.7"/>
<path d="M165.00 329.85L168.65 336.15L161.35 336.15Z" fill="#939393" stroke="#000" stroke-width="1.7" stroke-linejoin="round"/>
<path d="M165.00 334.35L168.65 340.65L161.35 340.65Z" fill="#939393" stroke="#000" stroke-width="1.7" stroke-linejoin="round"/>
<path d="M165.00 338.85L168.65 345.15L161.35 345.15Z" fill="#939393" stroke="#000" stroke-width="1.7" stroke-linejoin="round"/>
<rect x="166.85" y="334.85" width="6.30" height="6.30" fill="none" stroke="#000" stroke-width="1.7"/>
<rect x="166.85" y="339.85" width="6.30" height="6.30" fill="none" stroke="#000" stroke-width="1.7"/>
<rect x="166.85" y="344.85" width="6.30" height="6.30" fill="none" stroke="#000" stroke-width="1.7"/>
<path d="M197.50 333.85L201.15 340.15L193.85 340.15Z" fill="#939393" stroke="#000" stroke-width="1.7" stroke-linejoin="round"/>
<path d="M197.50 337.35L201.15 343.65L193.85 343.65Z" fill="#939393" stroke="#000" stroke-width="1.7" stroke-linejoin="round"/>
<path d="M197.50 340.85L201.15 347.15L193.85 347.15Z" fill="#939393" stroke="#000" stroke-width="1.7" stroke-linejoin="round"/>
<path d="M197.50 344.35L201.15 350.65L193.85 350.65Z" fill="#939393" stroke="#000" stroke-width="1.7" stroke-linejoin="round"/>
<path d="M197.50 347.85L201.15 354.15L193.85 354.15Z" fill="#939393" stroke="#000" stroke-width="1.7" stroke-linejoin="round"/>
<rect x="191.85" y="340.85" width="6.30" height="6.30" fill="none" stroke="#000" stroke-width="1.7"/>
<rect x="191.85" y="344.35" width="6.30" height="6.30" fill="none" stroke="#000" stroke-width="1.7"/>
<rect x="191.85" y="347.85" width="6.30" height="6.30" fill="none" stroke="#000" stroke-width="1.7"/>
<rect x="197.35" y="339.85" width="6.30" height="6.30" fill="none" stroke="#000" stroke-width="1.7"/>
<rect x="197.35" y="343.85" width="6.30" height="6.30" fill="none" stroke="#000" stroke-width="1.7"/>
<rect x="197.35" y="347.85" width="6.30" height="6.30" fill="none" stroke="#000" stroke-width="1.7"/>
<rect x="224.35" y="323.85" width="6.30" height="6.30" fill="none" stroke="#000" stroke-width="1.7"/>
<rect x="224.35" y="327.35" width="6.30" height="6.30" fill="none" stroke="#000" stroke-width="1.7"/>
<rect x="224.35" y="330.85" width="6.30" height="6.30" fill="none" stroke="#000" stroke-width="1.7"/>
<rect x="285.85" y="336.85" width="6.30" height="6.30" fill="none" stroke="#000" stroke-width="1.7"/>
<rect x="285.85" y="339.85" width="6.30" height="6.30" fill="none" stroke="#000" stroke-width="1.7"/>
<rect x="285.85" y="342.85" width="6.30" height="6.30" fill="none" stroke="#000" stroke-width="1.7"/>
<rect x="285.85" y="345.85" width="6.30" height="6.30" fill="none" stroke="#000" stroke-width="1.7"/>
<path d="M288.00 335.85L291.65 342.15L284.35 342.15Z" fill="#939393" stroke="#000" stroke-width="1.7" stroke-linejoin="round"/>
<path d="M288.00 339.85L291.65 346.15L284.35 346.15Z" fill="#939393" stroke="#000" stroke-width="1.7" stroke-linejoin="round"/>
<rect x="317.35" y="337.85" width="6.30" height="6.30" fill="none" stroke="#000" stroke-width="1.7"/>
<rect x="317.35" y="340.85" width="6.30" height="6.30" fill="none" stroke="#000" stroke-width="1.7"/>
<rect x="317.35" y="343.85" width="6.30" height="6.30" fill="none" stroke="#000" stroke-width="1.7"/>
<rect x="317.35" y="346.85" width="6.30" height="6.30" fill="none" stroke="#000" stroke-width="1.7"/>
<path d="M319.00 335.85L322.65 342.15L315.35 342.15Z" fill="#939393" stroke="#000" stroke-width="1.7" stroke-linejoin="round"/>
<path d="M319.00 339.85L322.65 346.15L315.35 346.15Z" fill="#939393" stroke="#000" stroke-width="1.7" stroke-linejoin="round"/>
<rect x="346.85" y="340.85" width="6.30" height="6.30" fill="none" stroke="#000" stroke-width="1.7"/>
<rect x="346.85" y="344.35" width="6.30" height="6.30" fill="none" stroke="#000" stroke-width="1.7"/>
<rect x="346.85" y="347.85" width="6.30" height="6.30" fill="none" stroke="#000" stroke-width="1.7"/>
<rect x="377.05" y="335.85" width="6.30" height="6.30" fill="none" stroke="#000" stroke-width="1.7"/>
<rect x="377.05" y="338.85" width="6.30" height="6.30" fill="none" stroke="#000" stroke-width="1.7"/>
<rect x="377.05" y="341.85" width="6.30" height="6.30" fill="none" stroke="#000" stroke-width="1.7"/>
<rect x="377.05" y="344.85" width="6.30" height="6.30" fill="none" stroke="#000" stroke-width="1.7"/>
<rect x="373.85" y="330.85" width="6.30" height="6.30" fill="none" stroke="#000" stroke-width="1.7"/>
<rect x="381.35" y="331.35" width="6.30" height="6.30" fill="none" stroke="#000" stroke-width="1.7"/>
<rect x="407.85" y="328.85" width="6.30" height="6.30" fill="none" stroke="#000" stroke-width="1.7"/>
<rect x="407.85" y="332.35" width="6.30" height="6.30" fill="none" stroke="#000" stroke-width="1.7"/>
<rect x="407.85" y="335.85" width="6.30" height="6.30" fill="none" stroke="#000" stroke-width="1.7"/>
<rect x="407.85" y="339.35" width="6.30" height="6.30" fill="none" stroke="#000" stroke-width="1.7"/>
<rect x="407.85" y="342.85" width="6.30" height="6.30" fill="none" stroke="#000" stroke-width="1.7"/>
<rect x="407.85" y="346.35" width="6.30" height="6.30" fill="none" stroke="#000" stroke-width="1.7"/>
<rect x="404.35" y="334.85" width="6.30" height="6.30" fill="none" stroke="#000" stroke-width="1.7"/>
<rect x="404.35" y="338.85" width="6.30" height="6.30" fill="none" stroke="#000" stroke-width="1.7"/>
<rect x="404.35" y="342.85" width="6.30" height="6.30" fill="none" stroke="#000" stroke-width="1.7"/>
<rect x="404.35" y="346.85" width="6.30" height="6.30" fill="none" stroke="#000" stroke-width="1.7"/>
<rect x="438.35" y="340.85" width="6.30" height="6.30" fill="none" stroke="#000" stroke-width="1.7"/>
<rect x="438.35" y="343.85" width="6.30" height="6.30" fill="none" stroke="#000" stroke-width="1.7"/>
<rect x="438.35" y="346.85" width="6.30" height="6.30" fill="none" stroke="#000" stroke-width="1.7"/>
<path d="M439.00 340.85L442.65 347.15L435.35 347.15Z" fill="#939393" stroke="#000" stroke-width="1.7" stroke-linejoin="round"/>
<path d="M439.00 344.85L442.65 351.15L435.35 351.15Z" fill="#939393" stroke="#000" stroke-width="1.7" stroke-linejoin="round"/>
<path d="M439.00 348.85L442.65 355.15L435.35 355.15Z" fill="#939393" stroke="#000" stroke-width="1.7" stroke-linejoin="round"/>
<rect x="468.85" y="340.85" width="6.30" height="6.30" fill="none" stroke="#000" stroke-width="1.7"/>
<rect x="468.85" y="343.85" width="6.30" height="6.30" fill="none" stroke="#000" stroke-width="1.7"/>
<rect x="468.85" y="346.85" width="6.30" height="6.30" fill="none" stroke="#000" stroke-width="1.7"/>
<path d="M468.50 347.85L472.15 354.15L464.85 354.15Z" fill="#939393" stroke="#000" stroke-width="1.7" stroke-linejoin="round"/>
<path d="M468.50 350.15L472.15 356.45L464.85 356.45Z" fill="#939393" stroke="#000" stroke-width="1.7" stroke-linejoin="round"/>
<path d="M475.00 347.85L478.65 354.15L471.35 354.15Z" fill="#939393" stroke="#000" stroke-width="1.7" stroke-linejoin="round"/>
<path d="M475.00 350.15L478.65 356.45L471.35 356.45Z" fill="#939393" stroke="#000" stroke-width="1.7" stroke-linejoin="round"/>
<path d="M472.00 348.35L475.65 354.65L468.35 354.65Z" fill="#939393" stroke="#000" stroke-width="1.7" stroke-linejoin="round"/>
<path d="M472.00 350.15L475.65 356.45L468.35 356.45Z" fill="#939393" stroke="#000" stroke-width="1.7" stroke-linejoin="round"/>
<rect x="498.85" y="339.85" width="6.30" height="6.30" fill="none" stroke="#000" stroke-width="1.7"/>
<rect x="498.85" y="342.85" width="6.30" height="6.30" fill="none" stroke="#000" stroke-width="1.7"/>
<rect x="498.85" y="345.85" width="6.30" height="6.30" fill="none" stroke="#000" stroke-width="1.7"/>
<rect x="498.85" y="348.85" width="6.30" height="6.30" fill="none" stroke="#000" stroke-width="1.7"/>
<path d="M501.00 332.85L504.65 339.15L497.35 339.15Z" fill="#939393" stroke="#000" stroke-width="1.7" stroke-linejoin="round"/>
<path d="M501.00 337.35L504.65 343.65L497.35 343.65Z" fill="#939393" stroke="#000" stroke-width="1.7" stroke-linejoin="round"/>
<path d="M501.00 341.85L504.65 348.15L497.35 348.15Z" fill="#939393" stroke="#000" stroke-width="1.7" stroke-linejoin="round"/>
<text transform="translate(74.90,363.00) rotate(-45)" font-size="14" text-anchor="end" dominant-baseline="central">2</text>
<text transform="translate(105.35,363.00) rotate(-45)" font-size="14" text-anchor="end" dominant-baseline="central">3</text>
<text transform="translate(135.80,363.00) rotate(-45)" font-size="14" text-anchor="end" dominant-baseline="central">4</text>
<text transform="translate(166.25,363.00) rotate(-45)" font-size="14" text-anchor="end" dominant-baseline="central">5.1 &amp; 5.2</text>
<text transform="translate(196.70,363.00) rotate(-45)" font-size="14" text-anchor="end" dominant-baseline="central">6</text>
<text transform="translate(227.15,363.00) rotate(-45)" font-size="14" text-anchor="end" dominant-baseline="central">7</text>
<text transform="translate(257.60,363.00) rotate(-45)" font-size="14" text-anchor="end" dominant-baseline="central">8.1 &amp; 8.2</text>
<text transform="translate(288.05,363.00) rotate(-45)" font-size="14" text-anchor="end" dominant-baseline="central">8.3</text>
<text transform="translate(318.50,363.00) rotate(-45)" font-size="14" text-anchor="end" dominant-baseline="central">9</text>
<text transform="translate(348.95,363.00) rotate(-45)" font-size="14" text-anchor="end" dominant-baseline="central">10b</text>
<text transform="translate(379.40,363.00) rotate(-45)" font-size="14" text-anchor="end" dominant-baseline="central">11</text>
<text transform="translate(409.85,363.00) rotate(-45)" font-size="14" text-anchor="end" dominant-baseline="central">12</text>
<text transform="translate(440.30,363.00) rotate(-45)" font-size="14" text-anchor="end" dominant-baseline="central">13</text>
<text transform="translate(470.75,363.00) rotate(-45)" font-size="14" text-anchor="end" dominant-baseline="central">14</text>
<text transform="translate(501.20,363.00) rotate(-45)" font-size="14" text-anchor="end" dominant-baseline="central">17a</text>
<g stroke="#000" stroke-width="2" fill="none">
<path d="M83.4 441.59999999999997V550.8"/>
<path d="M78.5 550.80H83.4"/>
<path d="M78.5 523.50H83.4"/>
<path d="M78.5 496.20H83.4"/>
<path d="M78.5 468.90H83.4"/>
<path d="M78.5 441.60H83.4"/>
<path d="M78.5 550.80H248"/>
<path d="M124 550.80V555M206.5 550.80V555"/>
<path d="M124 440V435H205.8V440"/>
</g>
<g stroke="#000" stroke-width="1.8">
<path d="M96.4 503.6H152.2M178.7 483H234.3"/>
</g>
<text x="77" y="555.80" font-size="13.8" text-anchor="end">0</text>
<text x="77" y="528.50" font-size="13.8" text-anchor="end">2</text>
<text x="77" y="501.20" font-size="13.8" text-anchor="end">4</text>
<text x="77" y="473.90" font-size="13.8" text-anchor="end">6</text>
<text x="77" y="446.60" font-size="13.8" text-anchor="end">8</text>
<text x="165" y="435.5" font-size="16.5" text-anchor="middle">*</text>
<text x="124" y="566.5" font-size="13" text-anchor="middle">DNA</text>
<text x="206.4" y="566.5" font-size="13.6" text-anchor="middle">KGF+DNA</text>
<text transform="translate(15.3,494.6) rotate(-90)" font-size="13.6" text-anchor="middle"># v-&#946; families used by</text>
<text transform="translate(31.8,494.4) rotate(-90)" font-size="13.6" text-anchor="middle">CD8<tspan dy="-5" font-size="9">+</tspan><tspan dy="5">tetramer</tspan><tspan dy="-5" font-size="9">+</tspan><tspan dy="5"> cells</tspan></text>
<text transform="translate(48.1,493.7) rotate(-90)" font-size="13.6" text-anchor="middle">(spleen)</text>
<rect x="111.35" y="479.90" width="5.90" height="5.90" fill="#fff" fill-opacity="0.3" stroke="#000" stroke-width="1.7"/>
<rect x="121.05" y="479.90" width="5.90" height="5.90" fill="#fff" fill-opacity="0.3" stroke="#000" stroke-width="1.7"/>
<rect x="111.35" y="493.55" width="5.90" height="5.90" fill="#fff" fill-opacity="0.3" stroke="#000" stroke-width="1.7"/>
<rect x="121.05" y="493.55" width="5.90" height="5.90" fill="#fff" fill-opacity="0.3" stroke="#000" stroke-width="1.7"/>
<rect x="131.25" y="493.55" width="5.90" height="5.90" fill="#fff" fill-opacity="0.3" stroke="#000" stroke-width="1.7"/>
<rect x="111.35" y="507.20" width="5.90" height="5.90" fill="#fff" fill-opacity="0.3" stroke="#000" stroke-width="1.7"/>
<rect x="121.05" y="507.20" width="5.90" height="5.90" fill="#fff" fill-opacity="0.3" stroke="#000" stroke-width="1.7"/>
<rect x="111.35" y="534.50" width="5.90" height="5.90" fill="#fff" fill-opacity="0.3" stroke="#000" stroke-width="1.7"/>
<rect x="121.05" y="534.50" width="5.90" height="5.90" fill="#fff" fill-opacity="0.3" stroke="#000" stroke-width="1.7"/>
<rect x="131.25" y="534.50" width="5.90" height="5.90" fill="#fff" fill-opacity="0.3" stroke="#000" stroke-width="1.7"/>
<path d="M196.90 452.60L200.20 458.30L193.60 458.30Z" fill="#939393" stroke="#000" stroke-width="1.7" stroke-linejoin="round"/>
<path d="M206.80 452.60L210.10 458.30L203.50 458.30Z" fill="#939393" stroke="#000" stroke-width="1.7" stroke-linejoin="round"/>
<path d="M206.80 466.25L210.10 471.95L203.50 471.95Z" fill="#939393" stroke="#000" stroke-width="1.7" stroke-linejoin="round"/>
<path d="M186.90 479.90L190.20 485.60L183.60 485.60Z" fill="#939393" stroke="#000" stroke-width="1.7" stroke-linejoin="round"/>
<path d="M196.60 479.90L199.90 485.60L193.30 485.60Z" fill="#939393" stroke="#000" stroke-width="1.7" stroke-linejoin="round"/>
<path d="M206.50 479.90L209.80 485.60L203.20 485.60Z" fill="#939393" stroke="#000" stroke-width="1.7" stroke-linejoin="round"/>
<path d="M216.30 479.90L219.60 485.60L213.00 485.60Z" fill="#939393" stroke="#000" stroke-width="1.7" stroke-linejoin="round"/>
<path d="M226.00 479.90L229.30 485.60L222.70 485.60Z" fill="#939393" stroke="#000" stroke-width="1.7" stroke-linejoin="round"/>
<path d="M206.80 507.20L210.10 512.90L203.50 512.90Z" fill="#939393" stroke="#000" stroke-width="1.7" stroke-linejoin="round"/>
<path d="M216.30 507.20L219.60 512.90L213.00 512.90Z" fill="#939393" stroke="#000" stroke-width="1.7" stroke-linejoin="round"/>
</svg></body></html>
